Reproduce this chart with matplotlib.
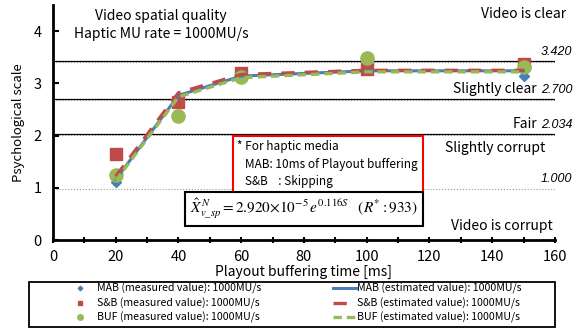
import matplotlib
matplotlib.use('Agg')
import matplotlib.pyplot as plt
from matplotlib.ticker import MultipleLocator
from matplotlib.patches import Rectangle

plt.rcParams['font.family'] = ['Noto Sans CJK JP', 'DejaVu Sans']
plt.rcParams['mathtext.fontset'] = 'stix'

# measured values
x_meas = [20, 40, 60, 100, 150]
mab_meas = [1.12, 2.62, 3.15, 3.25, 3.15]
sb_meas = [1.65, 2.65, 3.2, 3.28, 3.38]
buf_meas = [1.25, 2.38, 3.12, 3.48, 3.31]

# estimated values
x_est = [20, 40, 60, 100, 150]
mab_est = [1.16, 2.77, 3.14, 3.24, 3.24]
sb_est = [1.22, 2.82, 3.17, 3.25, 3.25]
buf_est = [1.14, 2.74, 3.11, 3.22, 3.22]

levels = [3.420, 2.700, 2.034, 1.000]
level_labels = ['3.420', '2.700', '2.034', '1.000']

c_mab = '#4a7ebb'
c_sb = '#be4b48'
c_buf = '#98b954'

fig = plt.figure(figsize=(5.86, 3.33), dpi=100)
ax = fig.add_axes([0.0904, 0.279, 0.8566, 0.706])

for lv in levels:
    ax.axhline(lv - 0.02, color='#999999', lw=0.8, ls=':', zorder=1)
    if lv > 1.5:
        ax.axhline(lv, color='black', lw=0.9, zorder=1)

l1, = ax.plot(x_meas, mab_meas, ls='none', marker='D', ms=5.5, color=c_mab, zorder=3)
l2, = ax.plot(x_meas, sb_meas, ls='none', marker='s', ms=8.5, color=c_sb, zorder=3)
l3, = ax.plot(x_meas, buf_meas, ls='none', marker='o', ms=9.5, color=c_buf, zorder=3)
l4, = ax.plot(x_est, mab_est, color=c_mab, lw=2.2, zorder=4)
l5, = ax.plot(x_est, sb_est, color=c_sb, lw=2.4, dashes=(4, 3), zorder=4)
l6, = ax.plot(x_est, buf_est, color=c_buf, lw=2.4, dashes=(2.5, 1.5), zorder=4)

ax.set_xlim(0, 160)
ax.set_ylim(0, 4.5)
ax.xaxis.set_major_locator(MultipleLocator(20))
ax.xaxis.set_minor_locator(MultipleLocator(10))
ax.set_yticks([0, 1, 2, 3, 4])
ax.tick_params(axis='x', which='both', direction='inout', length=4, width=1.5,
               labelsize=10.5, pad=5)
ax.tick_params(axis='y', direction='in', length=4, width=1.5, labelsize=10.5, pad=8)
for s in ['top', 'right']:
    ax.spines[s].set_visible(False)
for s in ['left', 'bottom']:
    ax.spines[s].set_linewidth(2)
ax.set_xlabel('Playout buffering time [ms]', fontsize=10, labelpad=1)
ax.set_ylabel('Psychological scale', fontsize=9.5, labelpad=6)

ax.text(34.5, 4.29, 'Video spatial quality', fontsize=10, ha='center', va='center')
ax.text(34.5, 3.94, 'Haptic MU rate = 1000MU/s', fontsize=10, ha='center', va='center')

num_font = dict(family='Liberation Sans', style='italic', fontsize=9)
for lv, lab in zip(levels, level_labels):
    ax.text(155.5, lv + 0.06, lab, ha='left', va='bottom', **num_font)

ax.text(163.5, 4.32, 'Video is clear', fontsize=10, ha='right', va='center')
ax.text(154.3, 2.76, 'Slightly clear', fontsize=10, ha='right', va='bottom')
ax.text(154.5, 2.09, 'Fair', fontsize=10, ha='right', va='bottom')
ax.text(141, 1.77, 'Slightly corrupt', fontsize=10, ha='center', va='center')
ax.text(143, 0.27, 'Video is corrupt', fontsize=10, ha='center', va='center')

note = ('* For haptic media\n'
        '   MAB: 10ms of Playout buffering\n'
        '   S&B    : Skipping')
ax.text(58.8, 1.45, note, fontsize=8.5, ha='left', va='center', linespacing=1.45,
        bbox=dict(boxstyle='square,pad=0.4', fc='white', ec='red', lw=1.5), zorder=5)

eq = (r'$\hat{X}^{\,N}_{v\_sp} = 2.920{\times}10^{-5}\,e^{0.116S}$'
      r'   $(R^{*}:933)$')
ax.text(80, 0.6, eq, fontsize=11, ha='center', va='center',
        bbox=dict(boxstyle='square,pad=0.3', fc='white', ec='black', lw=1.5), zorder=5)

# legend frame
fig.patches.append(Rectangle((0.0495, 0.018), 0.8976, 0.135, transform=fig.transFigure,
                             fill=False, ec='black', lw=1.3))

meas_labels = ['MAB (measured value): 1000MU/s',
               'S&B (measured value): 1000MU/s',
               'BUF (measured value): 1000MU/s']
est_labels = ['MAB (estimated value): 1000MU/s',
              'S&B (estimated value): 1000MU/s',
              'BUF (estimated value): 1000MU/s']
leg_kw = dict(loc='upper left', fontsize=7.6, frameon=False, labelspacing=0.3,
              borderpad=0, borderaxespad=0, handlelength=2.2)
leg1 = fig.legend([l1, l2, l3], meas_labels, bbox_to_anchor=(0.1165, 0.150),
                  markerscale=0.42, handletextpad=0.5, **leg_kw)
leg2 = fig.legend([l4, l5, l6], est_labels, bbox_to_anchor=(0.568, 0.150),
                  handletextpad=0.1, **leg_kw)

fig.savefig('out.png', dpi=100)
